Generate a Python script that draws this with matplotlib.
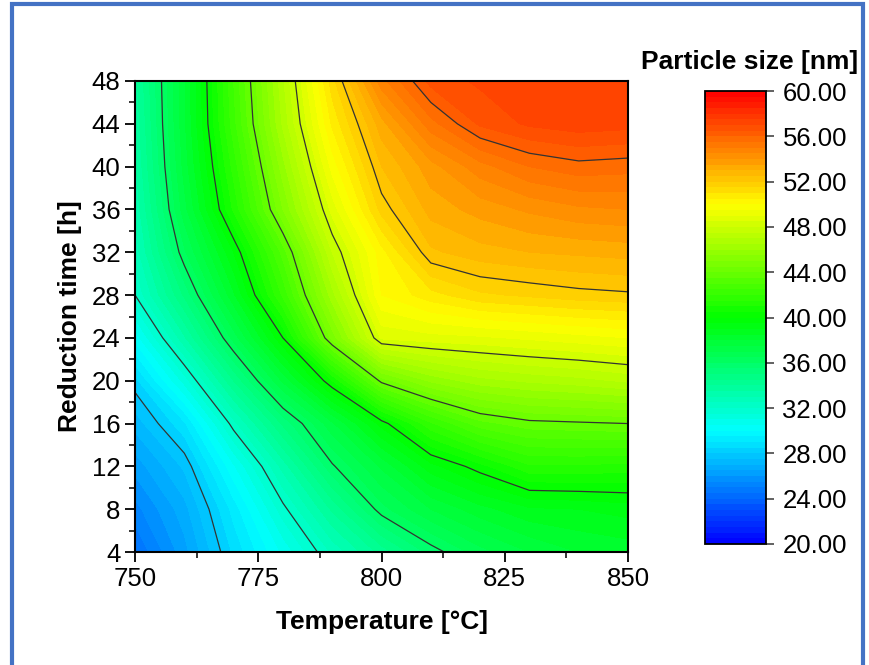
import numpy as np
import matplotlib
matplotlib.use("Agg")
import matplotlib.pyplot as plt
from matplotlib.colors import LinearSegmentedColormap
from matplotlib.patches import Rectangle
from matplotlib.ticker import MultipleLocator

plt.rcParams['font.family'] = ['Liberation Sans', 'DejaVu Sans']

# grid
temperature = [750, 760, 770, 780, 790, 800, 810, 820, 830, 840, 850]
red_time = [4, 8, 12, 16, 20, 24, 28, 32, 36, 40, 44, 48]

size_t04 = [24.5, 26.3, 28.6, 30.6, 32.6, 34.2, 35.7, 36.8, 37.5, 38.0, 38.2]
size_t08 = [25.3, 26.8, 29.2, 31.8, 34.1, 36.3, 37.5, 38.3, 38.9, 39.0, 39.2]
size_t12 = [26.2, 27.6, 30.4, 33.2, 35.9, 37.6, 39.3, 40.3, 41.4, 41.4, 41.3]
size_t16 = [27.2, 28.9, 32.3, 35.1, 37.4, 39.7, 41.9, 43.3, 43.8, 43.9, 44.0]
size_t20 = [28.3, 31.2, 34.5, 37.6, 40.5, 44.2, 45.6, 46.3, 46.6, 46.8, 47.1]
size_t24 = [30.2, 33.4, 36.7, 40.0, 44.7, 48.6, 48.8, 48.9, 49.1, 49.3, 49.5]
size_t28 = [32.0, 35.1, 38.4, 42.1, 46.3, 50.0, 50.8, 51.4, 51.6, 51.8, 51.9]
size_t32 = [32.7, 36.4, 39.5, 43.2, 47.5, 50.3, 52.4, 52.8, 53.0, 53.1, 53.2]
size_t36 = [33.1, 37.3, 41.1, 45.0, 48.7, 51.7, 53.2, 53.7, 54.1, 54.4, 54.5]
size_t40 = [33.4, 37.7, 41.7, 45.8, 49.7, 52.5, 53.8, 54.8, 55.5, 55.8, 55.7]
size_t44 = [33.6, 37.9, 42.3, 46.6, 50.6, 53.3, 55.3, 56.6, 57.1, 57.3, 57.2]
size_t48 = [33.8, 37.9, 42.5, 46.9, 51.3, 54.8, 56.7, 57.1, 57.3, 57.4, 57.3]

Z = np.array([size_t04, size_t08, size_t12, size_t16, size_t20, size_t24,
              size_t28, size_t32, size_t36, size_t40, size_t44, size_t48])
X, Y = np.meshgrid(temperature, red_time)

cmap = LinearSegmentedColormap.from_list(
    'rb', ['#0000ff', '#00ffff', '#00ff00', '#ffff00', '#ff0000'])

fig = plt.figure(figsize=(8.69, 6.65), dpi=100)
ax = fig.add_axes([0.1554, 0.1699, 0.5673, 0.7083])

fill_levels = np.arange(20, 60.01, 0.5)
line_levels = np.arange(24, 60, 4)
cf = ax.contourf(X, Y, Z, levels=fill_levels, cmap=cmap, vmin=20, vmax=60)
ax.contour(X, Y, Z, levels=line_levels, colors='#333333', linewidths=0.9)

ax.set_xlim(750, 850)
ax.set_ylim(4, 48)
ax.set_xticks([750, 775, 800, 825, 850])
ax.set_yticks(np.arange(4, 49, 4))
ax.xaxis.set_minor_locator(MultipleLocator(12.5))
ax.yaxis.set_minor_locator(MultipleLocator(2))
ax.tick_params(which='major', direction='out', length=7, width=1.3, labelsize=18.5)
ax.tick_params(which='minor', direction='out', length=4, width=1.1)
for s in ax.spines.values():
    s.set_linewidth(1.5)
ax.set_xlabel('Temperature [°C]', fontsize=19, fontweight='bold', labelpad=14)
ax.set_ylabel('Reduction time [h]', fontsize=19, fontweight='bold', labelpad=7)

cax = fig.add_axes([0.811, 0.182, 0.0702, 0.681])
cb = fig.colorbar(cf, cax=cax, ticks=np.arange(20, 61, 4), format='%.2f')
cb.outline.set_linewidth(1.3)
cax.tick_params(direction='out', length=6, width=1.3, color='#555555', labelsize=18.5, pad=6)
cax.minorticks_off()
fig.text(0.862, 0.888, 'Particle size [nm]', fontsize=19, fontweight='bold',
         ha='center', va='bottom')

# blue frame around the figure
fig.patches.append(Rectangle((12 / 869, -0.02), 851 / 869, 1.014, transform=fig.transFigure,
                             fill=False, edgecolor='#4472c4', linewidth=3))

fig.savefig('out.png', dpi=100)
